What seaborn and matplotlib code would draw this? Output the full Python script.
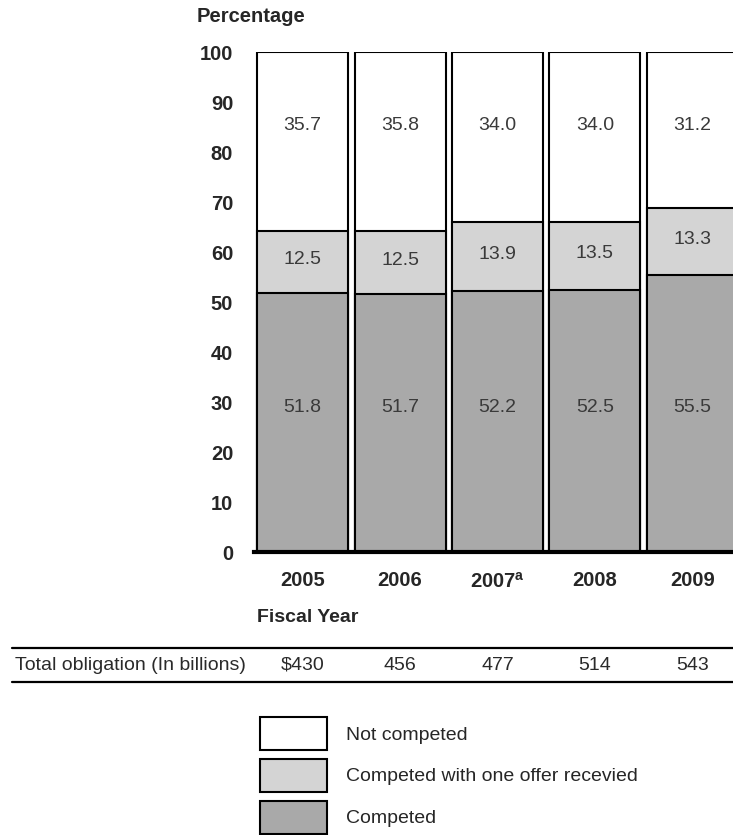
import matplotlib
matplotlib.use("Agg")
import matplotlib.pyplot as plt
import matplotlib.transforms as mtransforms
from matplotlib.lines import Line2D
from matplotlib.patches import Patch
import seaborn as sns
import pandas as pd

years = ["2005", "2006", "2007", "2008", "2009"]
year_labels = ["2005", "2006", r"2007$^{\mathbf{a}}$", "2008", "2009"]
competed = [51.8, 51.7, 52.2, 52.5, 55.5]
one_offer = [12.5, 12.5, 13.9, 13.5, 13.3]
not_competed = [35.7, 35.8, 34.0, 34.0, 31.2]
obligations = ["$430", "456", "477", "514", "543"]
legend_labels = ["Not competed", "Competed with one offer recevied", "Competed"]

sns.set_theme(style="white")
plt.rcParams["font.family"] = ["Liberation Sans", "DejaVu Sans"]
plt.rcParams["mathtext.fontset"] = "custom"
plt.rcParams["mathtext.bf"] = "Liberation Sans:bold"
plt.rcParams["mathtext.rm"] = "Liberation Sans"

c_dark = "#a9a9a9"
c_light = "#d4d4d4"
c_white = "#ffffff"

df = pd.DataFrame({
    "year": years,
    "competed": competed,
    "one": one_offer,
    "not": not_competed,
})
df["lvl2"] = df["competed"] + df["one"]
df["lvl3"] = df["lvl2"] + df["not"]

W, H = 733, 835
fig = plt.figure(figsize=(W / 100, H / 100), dpi=100)
ax = fig.add_axes([254 / W, (H - 552) / H, 487 / W, 500 / H])

bw = 0.935
lw = 1.5
sns.barplot(data=df, x="year", y="lvl3", color=c_white, edgecolor="black",
            linewidth=lw, width=bw, ax=ax, saturation=1)
sns.barplot(data=df, x="year", y="lvl2", color=c_light, edgecolor="black",
            linewidth=lw, width=bw, ax=ax, saturation=1)
sns.barplot(data=df, x="year", y="competed", color=c_dark, edgecolor="black",
            linewidth=lw, width=bw, ax=ax, saturation=1)

ax.set_xlim(-0.5, 4.5)
ax.set_ylim(0, 100)
ax.set_yticks(range(0, 101, 10))
ax.set_yticklabels([str(v) for v in range(0, 101, 10)], fontweight="bold", fontsize=14.5)
ax.set_xticks(range(len(years)))
ax.set_xticklabels(year_labels, fontweight="bold", fontsize=14.5)
ax.tick_params(axis="y", length=0, pad=15)
ax.tick_params(axis="x", length=0, pad=14)
ax.set_xlabel("")
ax.set_ylabel("")
for s in ["left", "right", "top"]:
    ax.spines[s].set_visible(False)
ax.spines["bottom"].set_linewidth(3)
ax.spines["bottom"].set_color("black")
ax.spines["bottom"].set_zorder(5)

lab_kw = dict(ha="center", va="center", fontsize=14, color="#3a3a3a")
for i in range(len(years)):
    ax.text(i, 28.8, f"{competed[i]:.1f}", **lab_kw)
    ax.text(i, competed[i] + one_offer[i] / 2 + 0.4, f"{one_offer[i]:.1f}", **lab_kw)
    ax.text(i, 85.2, f"{not_competed[i]:.1f}", **lab_kw)

fig.text(197 / W, 1 - 17 / H, "Percentage", fontweight="bold", fontsize=14.5, ha="left", va="center")
fig.text(257 / W, 1 - 617 / H, "Fiscal Year", fontweight="bold", fontsize=14, ha="left", va="center")

# obligation table
for yy in (648, 682):
    fig.add_artist(Line2D([12 / W, 1], [1 - yy / H, 1 - yy / H], color="black", linewidth=1.6,
                          transform=fig.transFigure))
fig.text(15 / W, 1 - 665 / H, "Total obligation (In billions)", fontsize=14, ha="left", va="center",
         color="#2a2a2a")
trans = mtransforms.blended_transform_factory(ax.transData, fig.transFigure)
for i, v in enumerate(obligations):
    ax.text(i, 1 - 665 / H, v, transform=trans, ha="center", va="center", fontsize=14,
            color="#2a2a2a", clip_on=False)

handles = [Patch(facecolor=c_white, edgecolor="black", linewidth=1.5),
           Patch(facecolor=c_light, edgecolor="black", linewidth=1.5),
           Patch(facecolor=c_dark, edgecolor="black", linewidth=1.5)]
fig.legend(handles, legend_labels, loc="upper left", bbox_to_anchor=(260 / W, 1 - 717 / H),
           frameon=False, fontsize=14, handlelength=3.45, handleheight=2.23,
           labelspacing=0.46, handletextpad=0.98, borderpad=0, borderaxespad=0)

fig.savefig("out.png", dpi=100)
